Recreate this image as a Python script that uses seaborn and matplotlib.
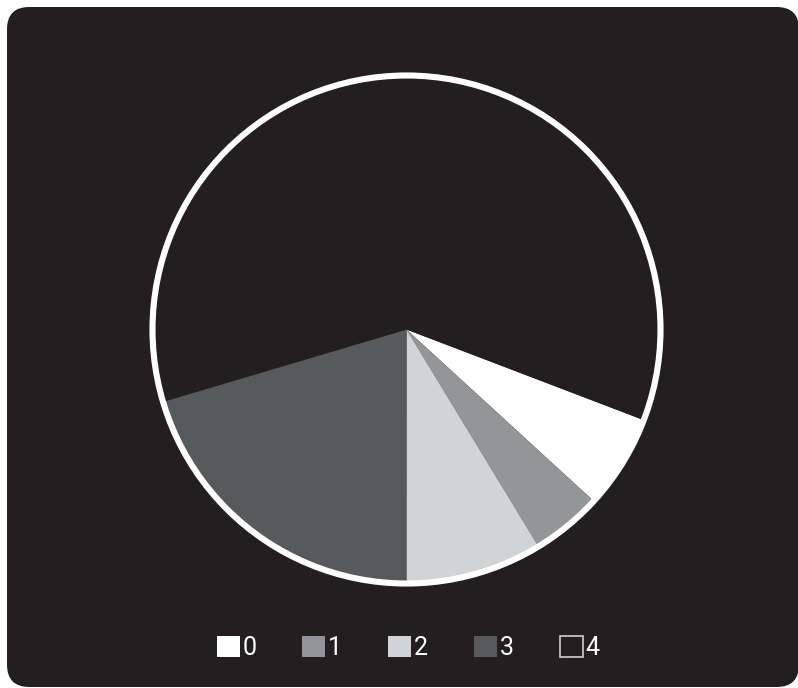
import matplotlib
matplotlib.use("Agg")
import matplotlib.pyplot as plt
from matplotlib.patches import Patch, Circle, FancyBboxPatch
import seaborn as sns

# Data
categories = ["0", "1", "2", "3", "4"]
shares = [6.0, 4.5, 8.7, 20.4, 60.4]
colors = ["#ffffff", "#939598", "#d1d3d4", "#58595b", "#231f20"]
card_color = "#231f20"

sns.set_style("white")
plt.rcParams["font.family"] = ["Roboto", "DejaVu Sans"]

W, H = 798, 688
fig = plt.figure(figsize=(W / 100, H / 100), dpi=100, facecolor="white")

# Rounded dark card behind the chart
card = FancyBboxPatch((7 / W, 1 / H), (799 - 7) / W, (H - 8) / H,
                      boxstyle="round,pad=0,rounding_size=0.028",
                      transform=fig.transFigure, facecolor=card_color,
                      edgecolor="none", zorder=-10, mutation_aspect=W / H)
fig.patches.append(card)

# Axes sized so that one data unit is ~254 px
cx, cy, r_px = 406.5, 329.5, 254.0
lim = 1.05
half = lim * r_px
ax = fig.add_axes([(cx - half) / W, (H - cy - half) / H, 2 * half / W, 2 * half / H])
ax.set_facecolor("none")
ax.patch.set_alpha(0)
ax.set_zorder(5)

wedges, _ = ax.pie(shares, colors=colors, startangle=-20.9, counterclock=False,
                   radius=0.995, wedgeprops=dict(linewidth=0, edgecolor="none"))
ring = Circle((0, 0), 1.0, fill=False, edgecolor="white", linewidth=4.4, zorder=5)
ax.add_patch(ring)
ax.set_xlim(-lim, lim)
ax.set_ylim(-lim, lim)
ax.set_aspect("equal")
ax.axis("off")

handles = []
for c in colors:
    if c == card_color:
        handles.append(Patch(facecolor=c, edgecolor="#cfd0d2", linewidth=1.2))
    else:
        handles.append(Patch(facecolor=c, edgecolor="none"))

fs = 18
leg = fig.legend(handles, categories, loc="center",
                 bbox_to_anchor=(408 / W, 1 - 648 / H), ncol=5, frameon=False,
                 fontsize=fs, handlelength=0.92, handleheight=0.92,
                 handletextpad=0.1, columnspacing=1.85, borderpad=0,
                 labelcolor="white")
leg.set_zorder(6)

fig.savefig("out.png", dpi=100, facecolor="white")
